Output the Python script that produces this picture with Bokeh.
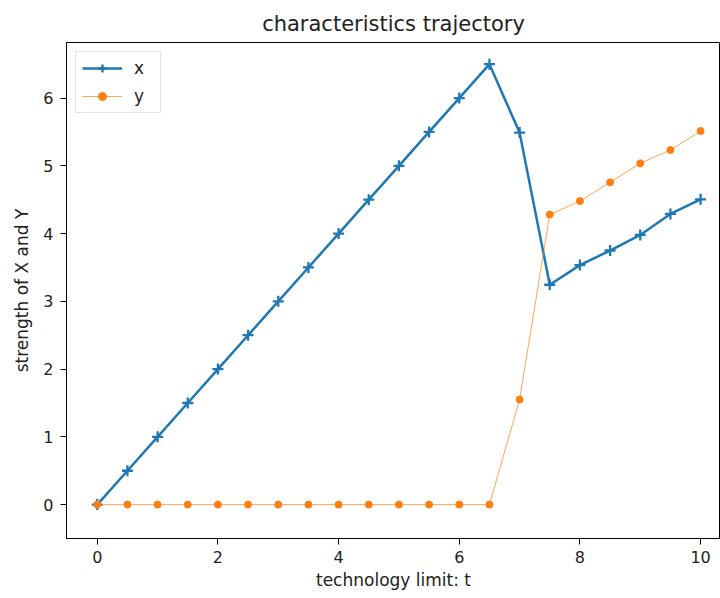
from bokeh.plotting import figure
from bokeh.models import Range1d, FixedTicker, Legend, LegendItem
from bokeh.embed import file_html
from bokeh.resources import INLINE

t = [0, 0.5, 1, 1.5, 2, 2.5, 3, 3.5, 4, 4.5, 5, 5.5, 6, 6.5, 7, 7.5, 8, 8.5, 9, 9.5, 10]
x_vals = [0, 0.5, 1, 1.5, 2, 2.5, 3, 3.5, 4, 4.5, 5, 5.5, 6, 6.5, 5.49, 3.245, 3.535, 3.75, 3.98, 4.29, 4.505]
y_vals = [0, 0, 0, 0, 0, 0, 0, 0, 0, 0, 0, 0, 0, 0, 1.55, 4.28, 4.48, 4.756, 5.037, 5.234, 5.514]
x_ticks = [0, 2, 4, 6, 8, 10]
y_ticks = [0, 1, 2, 3, 4, 5, 6]

FONT = "DejaVu Sans"
p = figure(width=720, height=598, output_backend="svg", toolbar_location=None,
           x_range=Range1d(-0.51, 10.33), y_range=Range1d(-0.5, 6.82),
           x_axis_label="technology limit: t", y_axis_label="strength of X and Y",
           min_border_left=66, min_border_right=0, min_border_top=42, min_border_bottom=60)
p.title.text = "characteristics trajectory"
p.title.align = "center"
p.title.offset = 6
p.title.text_font = FONT
p.title.text_font_size = "21px"
p.title.text_font_style = "normal"
p.title.text_color = "#222222"
p.title.standoff = 14
p.outline_line_color = "black"
p.outline_line_width = 1
p.xgrid.visible = False
p.ygrid.visible = False

xax = p.below[0]
yax = p.left[0]
for ax in (xax, yax):
    ax.axis_line_color = "black"
    ax.major_tick_line_color = "black"
    ax.minor_tick_line_color = None
    ax.major_tick_out = 6
    ax.major_tick_in = 0
    ax.major_label_text_font = FONT
    ax.major_label_text_font_size = "16px"
    ax.major_label_text_color = "#222222"
    ax.axis_label_text_font = FONT
    ax.axis_label_text_font_size = "17px"
    ax.axis_label_text_font_style = "normal"
    ax.axis_label_text_color = "#222222"
xax.ticker = FixedTicker(ticks=x_ticks)
yax.ticker = FixedTicker(ticks=y_ticks)
xax.axis_label_standoff = 4
yax.axis_label_standoff = 8
xax.major_label_standoff = 6
yax.major_label_standoff = 7

blue = "#1f77b4"
orange = "#ff7f0e"
lx = p.line(t, x_vals, line_color=blue, line_width=2.5)
mx = p.scatter(t, x_vals, marker="cross", size=11, line_color=blue, line_width=2.3)
ly = p.line(t, y_vals, line_color=orange, line_width=1, line_alpha=0.7)
my = p.scatter(t, y_vals, marker="circle", size=7, fill_color=orange, line_color=orange)

legend = Legend(items=[LegendItem(label="x", renderers=[lx, mx]),
                       LegendItem(label="y", renderers=[ly, my])],
                location="top_left")
legend.label_text_font = FONT
legend.label_text_font_size = "17px"
legend.label_text_color = "#222222"
legend.border_line_color = "#cccccc"
legend.border_line_width = 1
legend.glyph_width = 40
legend.glyph_height = 20
legend.spacing = 8
legend.padding = 6
legend.margin = 9
legend.label_standoff = 12
p.add_layout(legend)

open("out.html", "w").write(file_html(p, INLINE))
